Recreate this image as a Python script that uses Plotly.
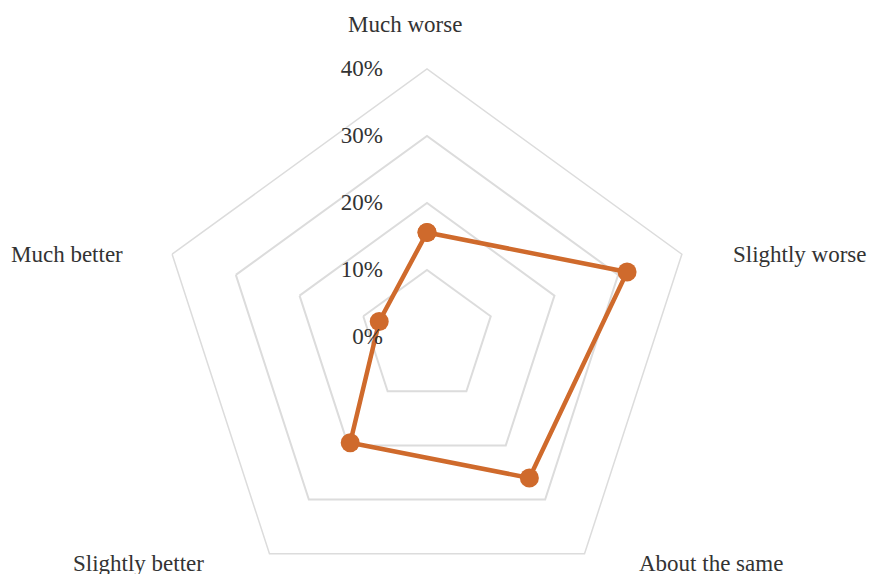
import math
import plotly.graph_objects as go

categories = ["Much worse", "Slightly worse", "About the same", "Slightly better", "Much better"]
values = [15.6, 31.4, 26.0, 19.5, 7.5]
radial_ticks = [0, 10, 20, 30, 40]
radial_tick_labels = ["0%", "10%", "20%", "30%", "40%"]

LINE = "#CF6A2C"
GRID = "#DCDCDC"
FONT = dict(family="Liberation Serif, Times New Roman, serif", size=23, color="#333333")

# page layout (pixels)
W, H = 869, 640
ML, MR, MT, MB = 159, 174, 69, 35
PW, PH = W - ML - MR, H - MT - MB

fig = go.Figure()
fig.add_trace(go.Scatterpolar(
    r=values + values[:1],
    theta=categories + categories[:1],
    mode="lines+markers",
    line=dict(color=LINE, width=4.5),
    marker=dict(color=LINE, size=19),
    hoverinfo="skip",
    showlegend=False,
))

# category name labels placed outside the outer pentagon vertices
label_offsets = [(-22, -44, "center"), (49, 0, "left"), (52, 10, "left"),
                 (-63, 10, "right"), (-47, 0, "right")]
R = PW / 2.0
annotations = []
for i, name in enumerate(categories):
    th = math.radians(360.0 * i / len(categories))
    vx = R * math.sin(th)
    vy = -R * math.cos(th)
    dx, dy, anchor = label_offsets[i]
    px = vx + dx
    py = vy + dy
    annotations.append(dict(
        text=name, showarrow=False, xref="paper", yref="paper",
        x=0.5 + px / PW, y=0.5 - py / PH,
        xanchor=anchor, yanchor="middle", font=FONT,
    ))

fig.update_layout(
    width=W, height=H,
    margin=dict(l=ML, r=MR, t=MT, b=MB),
    paper_bgcolor="white",
    plot_bgcolor="white",
    font=FONT,
    annotations=annotations,
    polar=dict(
        bgcolor="white",
        gridshape="linear",
        domain=dict(x=[0, 1], y=[0, 1]),
        radialaxis=dict(
            range=[0, 40],
            tickvals=radial_ticks,
            ticktext=[t + "\u00a0" * 7 for t in radial_tick_labels],
            angle=90,
            tickangle=90,
            side="counterclockwise",
            showline=False,
            ticks="",
            gridcolor=GRID,
            gridwidth=1.5,
            tickfont=FONT,
        ),
        angularaxis=dict(
            rotation=90,
            direction="clockwise",
            categoryarray=categories,
            categoryorder="array",
            showgrid=False,
            showline=True,
            showticklabels=False,
            linecolor=GRID,
            linewidth=1.5,
            ticks="",
        ),
    ),
)

fig.write_html("out.html", post_script="document.body.style.margin='0';document.body.style.overflow='hidden';document.documentElement.style.overflow='hidden';")
